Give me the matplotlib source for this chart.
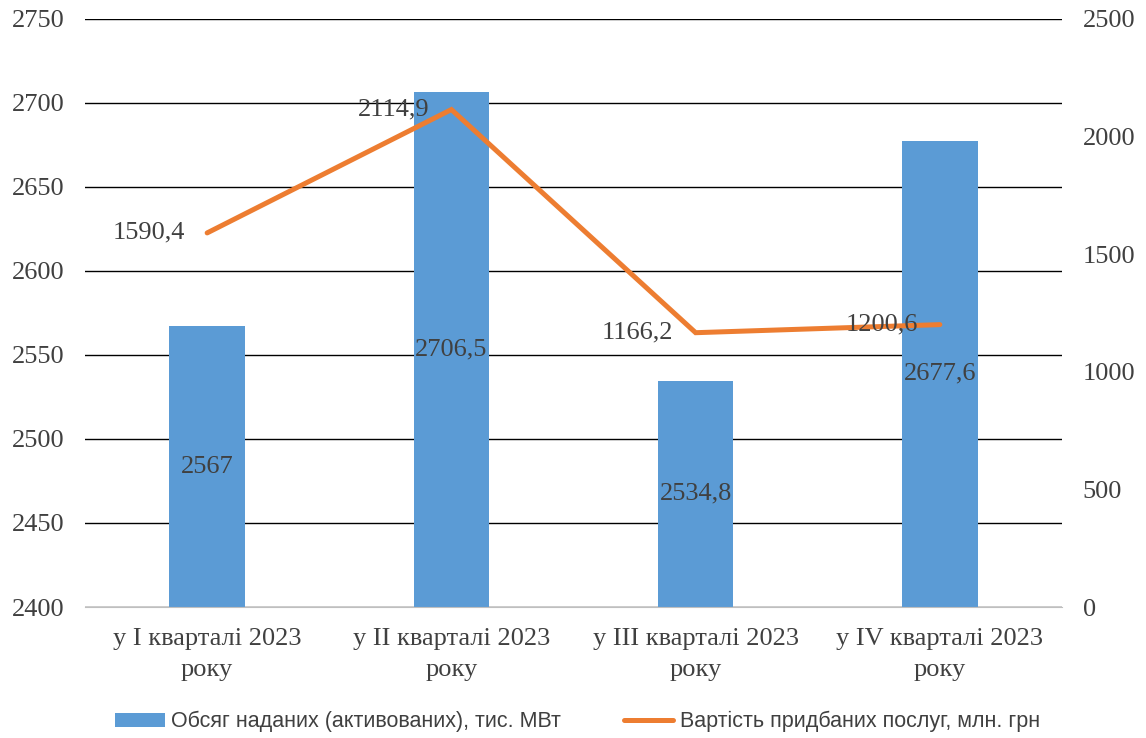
import matplotlib
matplotlib.use("Agg")
import matplotlib.pyplot as plt
from matplotlib.lines import Line2D
from matplotlib.patches import Patch
import numpy as np

# дані по кварталах
categories = ["у І кварталі 2023\nроку", "у ІІ кварталі 2023\nроку",
              "у ІІІ кварталі 2023\nроку", "у IV кварталі 2023\nроку"]
volume = [2567, 2706.5, 2534.8, 2677.6]        # тис. МВт
cost = [1590.4, 2114.9, 1166.2, 1200.6]        # млн. грн

volume_name = "Обсяг наданих (активованих), тис. МВт"
cost_name = "Вартість придбаних послуг, млн. грн"

serif = ["Liberation Serif", "DejaVu Serif"]
sans = ["Liberation Sans", "DejaVu Sans"]
bar_color = "#5B9BD5"
line_color = "#ED7D31"
text_color = "#404040"
fs = 19


def fmt(v):
    s = ("%.1f" % v).replace(".", ",")
    return s[:-2] if s.endswith(",0") else s


fig = plt.figure(figsize=(11.46, 7.38), dpi=100)
ax = fig.add_axes([0.0742, 0.1775, 0.8525, 0.7968])
ax2 = ax.twinx()

x = np.arange(len(categories))
ax.bar(x, volume, width=0.31, color=bar_color, zorder=2)
ax.set_ylim(2400, 2750)
ax.set_yticks(np.arange(2400, 2751, 50))
ax.set_xlim(-0.5, len(categories) - 0.5)
ax.set_xticks(x)
ax.set_xticklabels(categories, family=serif, fontsize=fs, color=text_color,
                   linespacing=1.55)
ax.tick_params(axis="x", length=0, pad=15)
ax.tick_params(axis="y", length=0, pad=15, labelsize=fs, labelcolor=text_color)
for lbl in ax.get_yticklabels():
    lbl.set_family(serif)
ax.grid(axis="y", color="black", linewidth=1.0, zorder=0)
for s in ["top", "left", "right"]:
    ax.spines[s].set_visible(False)
ax.spines["bottom"].set_color("#bfbfbf")
ax.spines["bottom"].set_zorder(3)

for xi, v in zip(x, volume):
    ax.text(xi, (v + 2400) / 2, fmt(v), ha="center", va="center",
            family=serif, fontsize=fs, color=text_color, zorder=4)

ax2.plot(x, cost, color=line_color, linewidth=3.6, solid_capstyle="round",
         solid_joinstyle="miter", zorder=3)
ax2.set_ylim(0, 2500)
ax2.set_yticks(np.arange(0, 2501, 500))
ax2.tick_params(axis="y", length=0, pad=15, labelsize=fs, labelcolor=text_color)
for lbl in ax2.get_yticklabels():
    lbl.set_family(serif)
for s in ["top", "left", "right", "bottom"]:
    ax2.spines[s].set_visible(False)

for xi, v in zip(x, cost):
    ax2.annotate(fmt(v), (xi, v), xytext=(-16, 0), textcoords="offset points",
                 ha="right", va="center", family=serif, fontsize=fs,
                 color=text_color, zorder=5)

handles = [Patch(facecolor=bar_color, label=volume_name),
           Line2D([], [], color=line_color, linewidth=3.6,
                  solid_capstyle="round", label=cost_name)]
fig.legend(handles=handles, loc="center", bbox_to_anchor=(0.504, 0.022),
           ncol=2, frameon=False, handlelength=2.3, handleheight=0.65,
           handletextpad=0.3, columnspacing=2.9,
           prop={"family": sans, "size": 15.5}, labelcolor=text_color)

fig.savefig("out.png", dpi=100)
